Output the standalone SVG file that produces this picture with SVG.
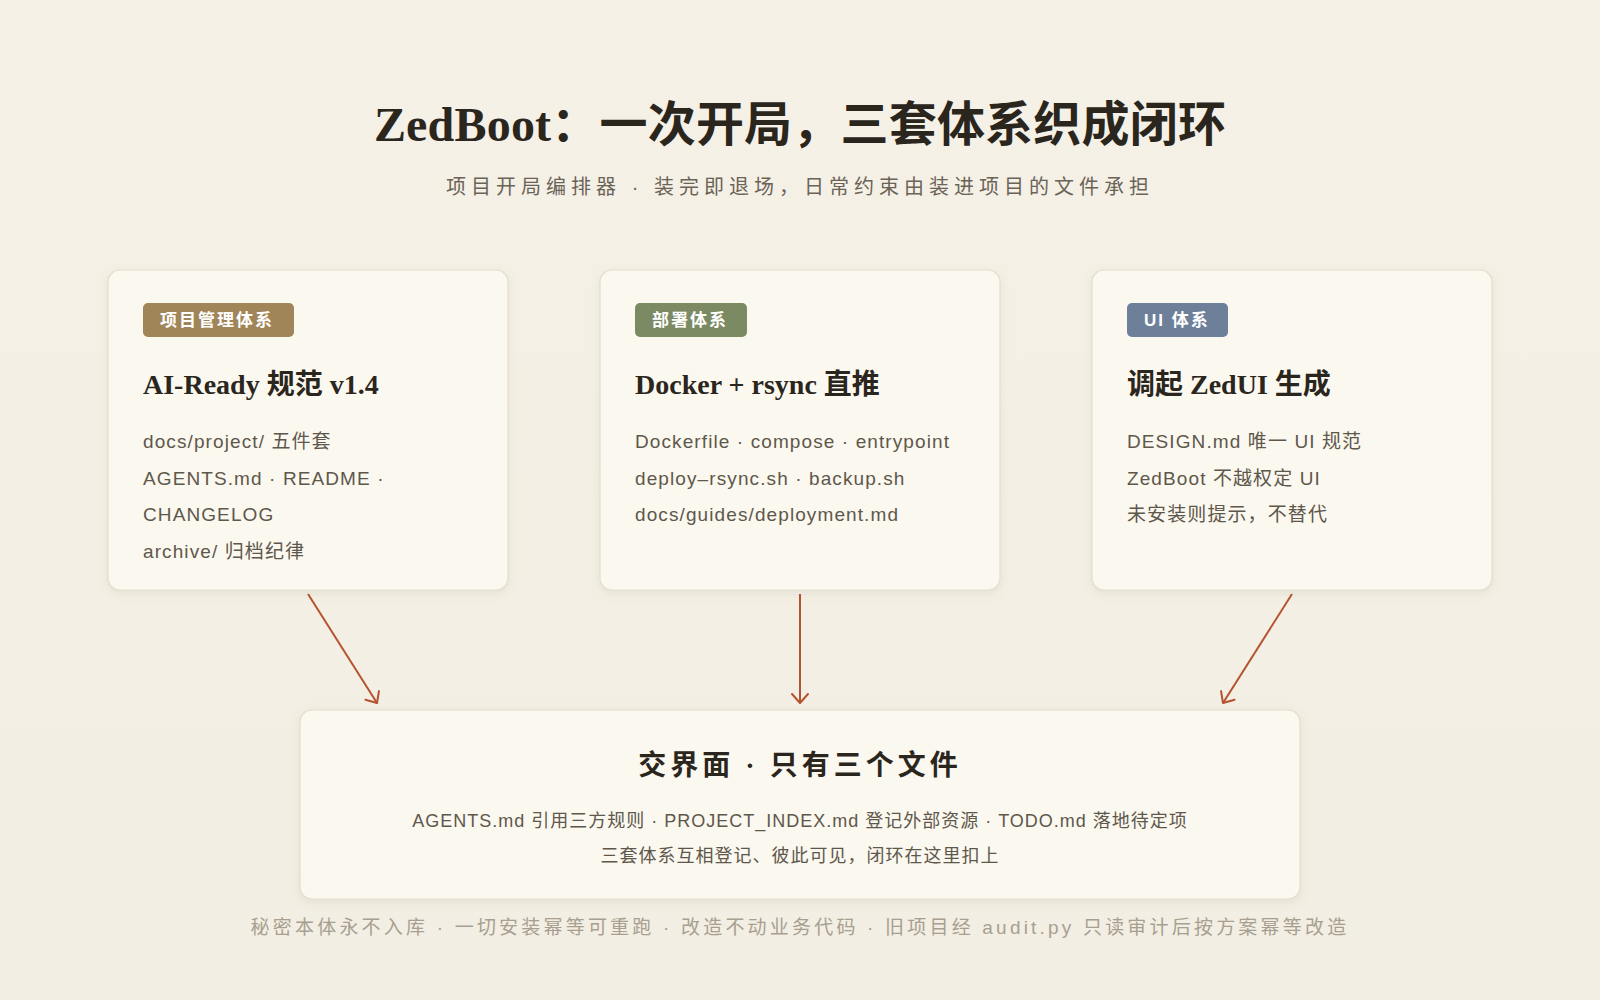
<svg xmlns="http://www.w3.org/2000/svg" width="1600" height="1000" viewBox="0 0 1600 1000">
<defs>
<linearGradient id="bg" x1="0" y1="0" x2="0" y2="1">
<stop offset="0" stop-color="#F5F1E7"/>
<stop offset="1" stop-color="#F2EEE3"/>
</linearGradient>
<filter id="sh" x="-10%" y="-10%" width="120%" height="130%">
<feDropShadow dx="0" dy="3" stdDeviation="5" flood-color="#8A7A5A" flood-opacity="0.12"/>
</filter>
<marker id="arr" viewBox="-12 -10 14 20" refX="0" refY="0" markerWidth="14" markerHeight="20" markerUnits="userSpaceOnUse" orient="auto">
<path d="M-9,-8 L0,0 L-9,8" fill="none" stroke="#B5532F" stroke-width="2" stroke-linecap="round" stroke-linejoin="round"/>
</marker>
</defs>
<style>
.card{fill:#FBF8EF;stroke:#E4DDCC;stroke-width:1.2;filter:url(#sh)}
.badge-t{font-family:"Liberation Sans","Noto Sans CJK SC",sans-serif;font-size:17px;font-weight:600;fill:#FFFFFF;letter-spacing:2px}
.ctitle{font-family:"Liberation Serif","Noto Sans CJK SC",serif;font-size:28px;font-weight:bold;fill:#2B261D}
.body{font-family:"Liberation Sans","Noto Sans CJK SC",sans-serif;font-size:19px;fill:#5E574C;letter-spacing:1.1px}
.conn{stroke:#B5532F;stroke-width:2;fill:none}
</style>
<rect x="0" y="0" width="1600" height="1000" fill="url(#bg)"/>

<g id="header">
<text x="800" y="141" text-anchor="middle" font-family="Liberation Serif, Noto Sans CJK SC, serif" font-size="48" font-weight="bold" fill="#2B261D" letter-spacing="0.2">ZedBoot：一次开局，三套体系织成闭环</text>
<text x="800" y="194" text-anchor="middle" font-family="Liberation Sans, Noto Sans CJK SC, sans-serif" font-size="20" fill="#6B6356" letter-spacing="5">项目开局编排器 · 装完即退场，日常约束由装进项目的文件承担</text>
</g>

<g id="node-project">
<rect class="card" x="108" y="270" width="400" height="320" rx="12"/>
<rect x="143" y="303" width="151" height="34" rx="5" fill="#A08558"/>
<text class="badge-t" x="160" y="326">项目管理体系</text>
<text class="ctitle" x="143" y="394">AI-Ready 规范 v1.4</text>
<text class="body" x="143" y="448">docs/project/ 五件套</text>
<text class="body" x="143" y="485">AGENTS.md · README ·</text>
<text class="body" x="143" y="521">CHANGELOG</text>
<text class="body" x="143" y="558">archive/ 归档纪律</text>
</g>

<g id="node-deploy">
<rect class="card" x="600" y="270" width="400" height="320" rx="12"/>
<rect x="635" y="303" width="112" height="34" rx="5" fill="#7B8A62"/>
<text class="badge-t" x="652" y="326">部署体系</text>
<text class="ctitle" x="635" y="394">Docker + rsync 直推</text>
<text class="body" x="635" y="448">Dockerfile · compose · entrypoint</text>
<text class="body" x="635" y="485">deploy–rsync.sh · backup.sh</text>
<text class="body" x="635" y="521">docs/guides/deployment.md</text>
</g>

<g id="node-ui">
<rect class="card" x="1092" y="270" width="400" height="320" rx="12"/>
<rect x="1127" y="303" width="101" height="34" rx="5" fill="#6E7F9A"/>
<text class="badge-t" x="1144" y="326">UI 体系</text>
<text class="ctitle" x="1127" y="394">调起 ZedUI 生成</text>
<text class="body" x="1127" y="448">DESIGN.md 唯一 UI 规范</text>
<text class="body" x="1127" y="485">ZedBoot 不越权定 UI</text>
<text class="body" x="1127" y="521">未安装则提示，不替代</text>
</g>

<g id="connectors">
<line class="conn" x1="308" y1="594" x2="377" y2="703" marker-end="url(#arr)"/>
<line class="conn" x1="800" y1="594" x2="800" y2="703" marker-end="url(#arr)"/>
<line class="conn" x1="1292" y1="594" x2="1223" y2="703" marker-end="url(#arr)"/>
</g>

<g id="node-interface">
<rect class="card" x="300" y="710" width="1000" height="189" rx="12"/>
<text x="800" y="775" text-anchor="middle" font-family="Liberation Serif, Noto Sans CJK SC, serif" font-size="28" font-weight="bold" fill="#2B261D" letter-spacing="4">交界面 · 只有三个文件</text>
<text x="800" y="827" text-anchor="middle" font-family="Liberation Sans, Noto Sans CJK SC, sans-serif" font-size="18" fill="#5E574C" letter-spacing="1">AGENTS.md 引用三方规则 · PROJECT_INDEX.md 登记外部资源 · TODO.md 落地待定项</text>
<text x="800" y="862" text-anchor="middle" font-family="Liberation Sans, Noto Sans CJK SC, sans-serif" font-size="18" fill="#5E574C" letter-spacing="1">三套体系互相登记、彼此可见，闭环在这里扣上</text>
</g>

<g id="footer">
<text x="800" y="934" text-anchor="middle" font-family="Liberation Sans, Noto Sans CJK SC, sans-serif" font-size="19" fill="#A89F90" letter-spacing="3.2">秘密本体永不入库 · 一切安装幂等可重跑 · 改造不动业务代码 · 旧项目经 audit.py 只读审计后按方案幂等改造</text>
</g>
</svg>
